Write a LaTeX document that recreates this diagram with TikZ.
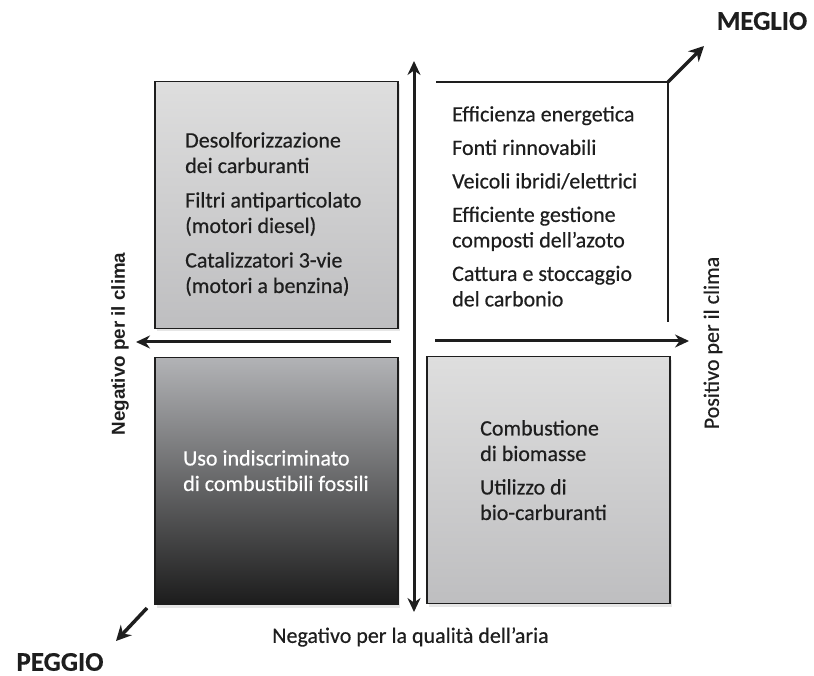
\documentclass[tikz,border=0pt]{standalone}
\usepackage{fontspec}
\setmainfont{Carlito}[FakeBold=0.45]
\newfontfamily\axisfont{Liberation Sans}
\usetikzlibrary{arrows.meta,shadows}
\definecolor{ink}{HTML}{1E1E1E}
\definecolor{paletop}{HTML}{DEDEDE}
\definecolor{palebot}{HTML}{BEBEC0}
\definecolor{darktop}{HTML}{B2B3B6}
\definecolor{darkbot}{HTML}{1C1C1C}
\tikzset{
  quad/.style={draw=ink,line width=1.8pt,minimum width=243pt,minimum height=247pt,
               inner sep=0pt,
               drop shadow={shadow xshift=2pt,shadow yshift=-3pt,opacity=.2}},
  quadp/.style={quad,top color=paletop,bottom color=palebot},
  quadd/.style={quad,top color=darktop,bottom color=darkbot},
  txt/.style={font=\fontsize{22}{25.5}\selectfont,align=left,anchor=north west,
              inner sep=0pt,text=ink},
  axis/.style={line width=3pt,draw=ink,-{Stealth[length=14pt,width=13pt]}},
  axis2/.style={axis,{Stealth[length=14pt,width=13pt]}-{Stealth[length=14pt,width=13pt]}},
  diag/.style={line width=3.5pt,draw=ink,-{Stealth[length=15pt,width=15pt]}},
  frame/.style={line width=1.5pt,draw=ink},
  tag/.style={font=\bfseries\fontsize{27}{30}\selectfont,text=ink,inner sep=0pt},
  side/.style={rotate=90,text=ink,inner sep=0pt},
}

\begin{document}
\begin{tikzpicture}[x=1pt, y=-1pt]
  \useasboundingbox (0,0) rectangle (814,676);
  % the four quadrants; the top right one is only an open frame
  \node[quadp] (tl) at (276.5,205) {};
  \node[quadd] (bl) at (276.5,481) {};
  \node[quadp] (br) at (548.5,480) {};
  \coordinate (best) at (668,82);
  \coordinate (frameL) at (436,82);
  \coordinate (frameB) at (668,322);
  \draw[frame] (frameL) -- (best) -- (frameB);

  \node[txt] (tltext) at (185,132)
       {Desolforizzazione\\dei carburanti\\[9pt]
        Filtri antiparticolato\\(motori diesel)\\[9pt]
        Catalizzatori 3-vie\\(motori a benzina)};
  \node[txt] (trtext) at (452,106)
       {Efficienza energetica\\[8pt]
        Fonti rinnovabili\\[8pt]
        Veicoli ibridi/elettrici\\[8pt]
        Efficiente gestione\\composti dell’azoto\\[8pt]
        Cattura e stoccaggio\\del carbonio};
  \node[txt, text=white] (bltext) at (183,450)
       {Uso indiscriminato\\di combustibili fossili};
  \node[txt] (brtext) at (480,420)
       {Combustione\\di biomasse\\[8pt]
        Utilizzo di\\bio-carburanti};

  % axes
  \coordinate (ytop) at (414,61);
  \coordinate (ybot) at (414,612);
  \coordinate (xlfrom) at (391,342);
  \coordinate (xlto) at (136,342);
  \coordinate (xrfrom) at (435,341);
  \coordinate (xrto) at (689,341);
  \draw[axis2] (ybot) -- (ytop);
  \draw[axis] (xlfrom) -- (xlto);
  \draw[axis] (xrfrom) -- (xrto);

  % better / worse corners
  \coordinate (up) at (704,46);
  \coordinate (worst) at (147,608);
  \coordinate (down) at (116,641);
  \draw[diag] (best) -- (up);
  \draw[diag] (worst) -- (down);
  \node[tag] (meglio) at (762,21) {MEGLIO};
  \node[tag] (peggio) at (60,662) {PEGGIO};

  % axis labels
  \node[side, font=\axisfont\bfseries\fontsize{18.8}{20}\selectfont] (neg)
       at (120,344) {Negativo per il clima};
  \node[side, font=\fontsize{22}{24}\selectfont] (pos)
       at (713,343) {Positivo per il clima};
  \node[text=ink, inner sep=0pt, font=\fontsize{22}{24}\selectfont] (aria)
       at (410.5,637) {Negativo per la qualità dell’aria};
\end{tikzpicture}
\end{document}
